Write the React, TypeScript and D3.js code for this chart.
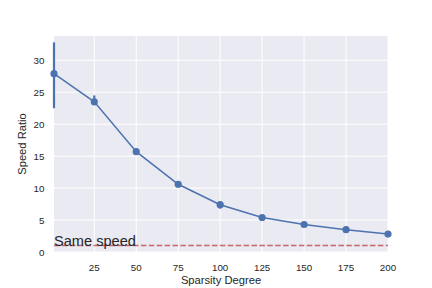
import * as d3 from "d3";
import * as React from "react";

const sparsity = [1, 25, 50, 75, 100, 125, 150, 175, 200];
const speedRatio = [27.9, 23.5, 15.7, 10.6, 7.4, 5.4, 4.3, 3.5, 2.8];
const errLow = [22.5, 23.1, 15.6, 10.5, 6.8, 5.3, 4.2, 3.4, 2.7];
const errHigh = [32.8, 24.5, 15.9, 10.7, 7.6, 5.5, 4.4, 3.6, 2.9];
const xTicks = [25, 50, 75, 100, 125, 150, 175, 200];
const yTicks = [0, 5, 10, 15, 20, 25, 30];

const W = 432;
const H = 288;
const left = 54;
const right = 388;
const top = 36;
const bottom = 252;
const font = "'Liberation Sans', Arial, sans-serif";
const ink = "#262626";
const blue = "#4c72b0";

export default function App() {
  const x = d3.scaleLinear().domain([1, 200]).range([left, right]);
  const y = d3.scaleLinear().domain([0, 33.8]).range([bottom, top]);

  const pts = sparsity.map((s, i) => ({ s, v: speedRatio[i], lo: errLow[i], hi: errHigh[i] }));
  const line = d3
    .line<{ s: number; v: number }>()
    .x((d) => x(d.s))
    .y((d) => y(d.v));

  return (
    <svg
      width={W}
      height={H}
      style={{ position: "absolute", left: 0, top: 0 }}
      fontFamily={font}
    >
      <rect x={0} y={0} width={W} height={H} fill="white" />
      <rect x={left} y={top} width={right - left} height={bottom - top} fill="#eaeaf2" />
      {/* grid */}
      {xTicks.map((t) => (
        <line key={"gx" + t} x1={x(t)} x2={x(t)} y1={top} y2={bottom} stroke="white" strokeWidth={1} />
      ))}
      {yTicks.map((t) => (
        <line key={"gy" + t} x1={left} x2={right} y1={y(t)} y2={y(t)} stroke="white" strokeWidth={1} />
      ))}
      {/* ticks */}
      {xTicks.map((t) => (
        <text key={"tx" + t} x={x(t)} y={271} fontSize={9.8} fill={ink} textAnchor="middle">
          {t}
        </text>
      ))}
      {yTicks.map((t) => (
        <text key={"ty" + t} x={44.5} y={y(t) + 3.5} fontSize={9.8} fill={ink} textAnchor="end">
          {t}
        </text>
      ))}
      <text x={(left + right) / 2} y={284} fontSize={11.2} fill={ink} textAnchor="middle">
        Sparsity Degree
      </text>
      <text
        transform={`translate(${22},${(top + bottom) / 2}) rotate(-90)`}
        fontSize={11.2}
        fill={ink}
        textAnchor="middle"
        dominantBaseline="central"
      >
        Speed Ratio
      </text>
      {/* same speed line */}
      <line
        x1={left}
        x2={right}
        y1={y(1)}
        y2={y(1)}
        stroke="#c44e52"
        strokeOpacity={0.85}
        strokeWidth={1.5}
        strokeDasharray="5.5,2.4"
      />
      <text x={left} y={y(1)} fontSize={14.6} fill={ink}>
        Same speed
      </text>
      {/* series */}
      <path d={line(pts) || ""} fill="none" stroke={blue} strokeWidth={1.5} />
      {pts.map((p) => (
        <line key={"e" + p.s} x1={x(p.s)} x2={x(p.s)} y1={y(p.lo)} y2={y(p.hi)} stroke={blue} strokeWidth={2.2} />
      ))}
      {pts.map((p) => (
        <circle key={"c" + p.s} cx={x(p.s)} cy={y(p.v)} r={3.6} fill={blue} />
      ))}
    </svg>
  );
}
